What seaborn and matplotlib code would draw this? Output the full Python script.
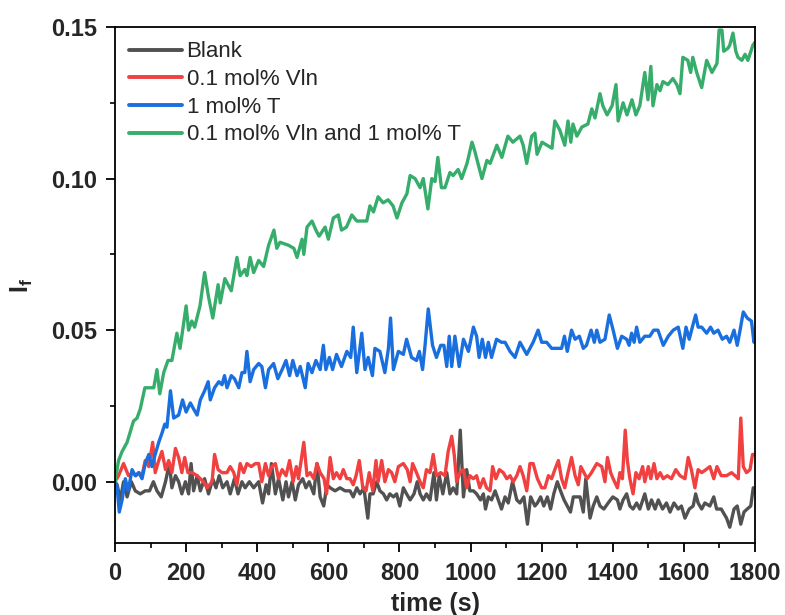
import numpy as np
import pandas as pd
import matplotlib
matplotlib.use("Agg")
import matplotlib.pyplot as plt
import seaborn as sns
from matplotlib.ticker import MultipleLocator, FormatStrFormatter

sns.set_style("ticks")
plt.rcParams["font.family"] = ["Liberation Sans", "DejaVu Sans"]
plt.rcParams["mathtext.fontset"] = "custom"
plt.rcParams["mathtext.bf"] = "Liberation Sans:bold"
plt.rcParams["mathtext.rm"] = "Liberation Sans"

# ---------------- data (I_f values in units of 1e-3) ----------------
series_labels = ["Blank", "0.1 mol% Vln", "1 mol% T", "0.1 mol% Vln and 1 mol% T"]
series_colors = ["#515151", "#F14040", "#1A6FDF", "#37AD6B"]

blank_t = [0, 6, 15, 24, 34, 46, 57, 71, 85, 97, 108, 118, 130, 142, 153, 160, 170, 179, 188, 198,
           207, 214, 221, 231, 240, 252, 263, 275, 284, 293, 303, 315, 324, 336, 346, 357, 366, 378,
           390, 404, 415, 425, 432, 440, 451, 460, 472, 481, 488, 498, 507, 516, 528, 537, 546, 559,
           568, 577, 587, 596, 605, 619, 633, 647, 661, 670, 680, 689, 700, 711, 717, 726, 736, 745,
           755, 764, 773, 783, 792, 801, 811, 820, 830, 841, 850, 858, 867, 876, 886, 897, 904, 912,
           922, 933, 942, 951, 961, 971, 980, 989, 998, 1008, 1017, 1028, 1036, 1042, 1050, 1059,
           1069, 1078, 1087, 1097, 1106, 1118, 1130, 1139, 1150, 1160, 1169, 1181, 1188, 1197, 1206,
           1216, 1225, 1234, 1244, 1253, 1263, 1272, 1281, 1289, 1298, 1308, 1317, 1324, 1336, 1345,
           1355, 1364, 1375, 1387, 1400, 1413, 1420, 1429, 1439, 1448, 1457, 1467, 1476, 1490, 1500,
           1509, 1519, 1528, 1540, 1551, 1561, 1572, 1584, 1593, 1603, 1615, 1626, 1633, 1640, 1650,
           1659, 1673, 1684, 1692, 1705, 1720, 1729, 1741, 1750, 1760, 1769, 1778, 1788, 1795]
blank_v = [0, -1, -6, 0, -5, 0, -3, -4, -3, -3, 0, -3, -5, 0, 6, -2, 2, 0, -4, 0,
           -4, 6, -3, 2, -3, 1, -4, 1, -2, 2, -2, 0, -4, 1, -4, 0, -2, 0,
           -2, 0, -7, -1, -4, 6, -4, 1, -6, 0, -5, 0, -6, -1, 1, -2, 0, -4,
           6, -5, -8, -1, -2, -3, -2, -3, -3, -5, -2, -4, -2, -12, -4, -4, 0, -3,
           -4, -6, -4, -5, -4, -8, -2, -4, -6, -4, 0, -4, -6, -4, -6, 3, -6, 2,
           -4, 3, -4, -2, -4, 17, -5, 4, -3, -3, -4, -6, -4, -9, -5, -6,
           -3, -6, -9, -5, -7, 0, -6, -7, -5, -14, -5, -8, -7, -5, -8,
           -5, -9, -4, 0, -3, -6, -8, -10, -5, -5, -5, -10, 1, -12, -8,
           -5, -8, -9, -7, -5, -6, -9, -6, -4, -8, -9, -7, -9, -4, -9,
           -6, -9, -6, -9, -7, -10, -7, -9, -8, -12, -9, -8, -4, -7, -9,
           -7, -8, -5, -9, -9, -12, -15, -9, -8, -14, -10, -9, -8, -2]

vln_t = [0, 10, 24, 38, 50, 59, 67, 76, 85, 95, 106, 113, 123, 132, 142, 151, 160, 170, 179, 188,
         196, 205, 217, 231, 240, 249, 259, 273, 280, 290, 301, 315, 324, 334, 343, 352, 362, 371,
         383, 395, 404, 413, 423, 432, 441, 451, 460, 470, 481, 491, 501, 510, 516, 531, 540, 549,
         559, 568, 577, 588, 595, 605, 614, 623, 633, 642, 652, 661, 670, 678, 687, 697, 706, 715,
         725, 734, 740, 750, 759, 769, 778, 787, 797, 811, 822, 830, 837, 848, 858, 867, 876, 886,
         895, 904, 916, 928, 937, 947, 954, 961, 970, 980, 989, 998, 1008, 1017, 1026, 1036, 1045,
         1055, 1062, 1071, 1081, 1092, 1102, 1111, 1120, 1130, 1139, 1148, 1158, 1167, 1176, 1188,
         1200, 1209, 1219, 1228, 1237, 1247, 1256, 1265, 1274, 1284, 1294, 1303, 1310, 1319, 1328,
         1340, 1355, 1369, 1378, 1385, 1394, 1401, 1413, 1420, 1427, 1435, 1441, 1448, 1457, 1465,
         1474, 1484, 1490, 1500, 1507, 1516, 1524, 1533, 1542, 1553, 1565, 1577, 1589, 1603, 1612,
         1621, 1631, 1640, 1650, 1662, 1673, 1684, 1693, 1705, 1720, 1734, 1744, 1753, 1760, 1767,
         1776, 1786, 1793, 1800]
vln_v = [0, 2, 6, 2, 3, 2, 3, 2, 7, 5, 13, 3, 7, 10, 4, 7, 3, 11, 8, 3,
         8, 3, 3, 2, 1, 0, -2, 0, 9, 4, 3, 3, 5, 3, -1, 6, 3, 6,
         5, 6, 6, 0, 6, 2, 5, 6, 1, 4, 2, 7, 0, 5, 1, 13, 2, 3,
         1, 6, 3, 1, -4, 8, 1, 3, 1, 4, 1, 1, -1, 2, 7, -2, -3, 3,
         -3, 7, 0, 7, 0, 4, 3, 0, 5, 6, 4, 0, 6, 3, 0, -2, 4, 3,
         9, 2, 3, 2, 10, 15, 9, 0, 3, 4, -2, 2, 1, 2, -2, 1, -2,
         -3, 5, 1, 4, 3, 1, 2, 0, 2, 5, 2, -3, 6, 6, 1,
         -2, -2, 2, 1, 4, 7, 1, -2, 3, 8, 2, -1, 5, 3, 1,
         3, 6, 5, 0, 8, 3, 1, -2, 3, 1, 17, 7, 1, -4, 3,
         1, 5, 0, 5, 1, 6, 1, 3, 1, 2, 1, 4, 2, 1, 8,
         4, -2, 4, 3, 4, 5, 1, 5, 2, 2, 3, 2, 1, 21, 5,
         3, 4, 9, 9]

t_t = [0, 6, 12, 20, 29, 37, 48, 57, 67, 76, 85, 95, 104, 113, 123, 132, 140, 146, 156, 165,
       179, 190, 200, 212, 221, 231, 240, 252, 262, 268, 280, 292, 301, 308, 315, 327, 336, 348,
       357, 365, 371, 380, 390, 404, 413, 423, 432, 446, 458, 470, 481, 491, 500, 512, 521, 535,
       543, 554, 565, 577, 586, 593, 603, 612, 623, 637, 652, 663, 670, 680, 694, 703, 712, 724,
       731, 745, 759, 769, 775, 783, 797, 811, 820, 834, 848, 856, 865, 872, 881, 893, 904, 916,
       925, 933, 940, 947, 956, 968, 980, 994, 1008, 1017, 1024, 1033, 1042, 1050, 1059, 1073,
       1087, 1097, 1111, 1125, 1139, 1158, 1176, 1190, 1200, 1214, 1228, 1242, 1256, 1264, 1272,
       1284, 1294, 1306, 1317, 1326, 1339, 1348, 1355, 1364, 1378, 1390, 1401, 1413, 1425, 1439,
       1446, 1453, 1460, 1467, 1476, 1490, 1504, 1515, 1527, 1542, 1556, 1570, 1584, 1597, 1606,
       1615, 1626, 1633, 1640, 1650, 1664, 1675, 1684, 1696, 1708, 1720, 1729, 1741, 1750, 1758,
       1767, 1778, 1790, 1797, 1800]
t_v = [0, -2, -10, -6, 1, -3, 4, 2, 3, 1, 6, 9, 5, 9, 13, 16, 19, 18, 30, 21,
       22, 27, 23, 26, 24, 22, 27, 30, 33, 27, 31, 33, 32, 35, 31, 35, 34, 31,
       36, 36, 43, 33, 37, 39, 38, 31, 37, 39, 34, 37, 40, 35, 40, 35, 38, 31,
       39, 36, 40, 37, 45, 37, 41, 37, 42, 38, 43, 41, 51, 36, 49, 37, 41, 35,
       44, 43, 36, 44, 54, 37, 43, 42, 47, 41, 40, 43, 37, 45, 57, 45, 41, 45,
       45, 38, 48, 38, 48, 38, 47, 43, 51, 48, 41, 47, 41, 46, 41, 47,
       46, 46, 43, 41, 46, 42, 46, 50, 46, 46, 44, 44, 44, 48, 43,
       50, 47, 48, 44, 45, 50, 46, 50, 46, 47, 55, 50, 44, 48, 47,
       45, 49, 46, 51, 46, 48, 48, 50, 50, 45, 48, 50, 51, 44, 51,
       47, 52, 55, 51, 51, 49, 51, 49, 50, 47, 48, 46, 50, 45, 50,
       56, 54, 53, 46, 47]

both_t = [0, 10, 20, 34, 52, 62, 71, 84, 109, 118, 126, 137, 149, 160, 174, 183, 200, 207, 216, 224,
          239, 252, 263, 275, 290, 296, 309, 327, 343, 352, 365, 371, 380, 390, 404, 418, 432, 447,
          455, 464, 488, 503, 512, 526, 531, 540, 554, 565, 574, 591, 600, 614, 628, 637, 651, 666,
          680, 694, 708, 717, 727, 740, 754, 768, 782, 793, 807, 821, 830, 844, 858, 867, 880, 891,
          900, 908, 918, 928, 942, 951, 965, 975, 990, 1004, 1012, 1021, 1032, 1046, 1055, 1074,
          1088, 1105, 1119, 1139, 1148, 1158, 1172, 1181, 1187, 1201, 1215, 1229, 1237, 1251, 1265,
          1274, 1282, 1288, 1299, 1313, 1330, 1341, 1350, 1364, 1372, 1384, 1398, 1409, 1415, 1429,
          1440, 1454, 1465, 1476, 1490, 1499, 1507, 1513, 1524, 1533, 1541, 1555, 1569, 1580, 1589,
          1597, 1611, 1619, 1625, 1636, 1650, 1664, 1679, 1693, 1699, 1707, 1712, 1724, 1729, 1738,
          1746, 1752, 1763, 1772, 1780, 1794, 1800]
both_v = [0, 7, 10, 13, 20, 21, 24, 31, 31, 37, 29, 36, 40, 40, 49, 44, 58, 50, 53, 51,
          58, 69, 61, 54, 65, 59, 67, 63, 74, 68, 70, 68, 74, 69, 73, 71, 78, 83,
          77, 79, 78, 77, 74, 80, 75, 84, 86, 83, 81, 84, 80, 87, 88, 83, 84, 88,
          86, 86, 86, 91, 89, 94, 92, 93, 91, 87, 92, 95, 101, 100, 97, 100, 90, 100,
          99, 107, 97, 97, 102, 101, 103, 100, 105, 112, 109, 105, 100, 106, 105, 111,
          107, 114, 112, 114, 111, 105, 114, 115, 108, 112, 111, 110, 119, 116, 111,
          119, 112, 118, 114, 117, 118, 123, 120, 128, 124, 121, 124, 131, 119, 125,
          121, 126, 121, 124, 135, 126, 137, 124, 131, 129, 132, 131, 133, 131, 128,
          140, 139, 135, 140, 135, 130, 139, 135, 138, 149, 149, 142, 143, 144, 148,
          142, 140, 139, 141, 139, 144, 145]

x_ticks_major = 200
y_ticks_major = 0.05

# ---------------- build long table ----------------
frames = []
for lab, tt, vv in zip(series_labels,
                       [blank_t, vln_t, t_t, both_t],
                       [blank_v, vln_v, t_v, both_v]):
    frames.append(pd.DataFrame({"time": tt, "If": np.array(vv) / 1000.0, "series": lab}))
df = pd.concat(frames, ignore_index=True)

fig = plt.figure(figsize=(7.85, 6.15), dpi=100)
ax = fig.add_axes([0.1465, 0.1171, 0.8153, 0.839])

sns.lineplot(data=df, x="time", y="If", hue="series", hue_order=series_labels,
             palette=series_colors, estimator=None, sort=False, linewidth=2.4, ax=ax)

ax.set_xlim(0, 1800)
ax.set_ylim(-0.0202, 0.15)
ax.xaxis.set_major_locator(MultipleLocator(x_ticks_major))
ax.xaxis.set_minor_locator(MultipleLocator(x_ticks_major / 2))
ax.yaxis.set_major_locator(MultipleLocator(y_ticks_major))
ax.yaxis.set_minor_locator(MultipleLocator(y_ticks_major / 2))
ax.yaxis.set_major_formatter(FormatStrFormatter("%.2f"))

for s in ax.spines.values():
    s.set_visible(True)
    s.set_linewidth(1.3)
    s.set_color("black")
ax.tick_params(which="major", direction="out", length=6.8, width=1.3, color="black")
ax.tick_params(which="minor", direction="out", length=3.8, width=1.2, color="black")
ax.tick_params(axis="y", labelsize=17, pad=6)
ax.tick_params(axis="x", labelsize=17, pad=7)
for lbl in ax.get_xticklabels() + ax.get_yticklabels():
    lbl.set_fontweight("bold")

ax.set_xlabel("time (s)", fontsize=18, fontweight="bold", labelpad=5)
ax.set_ylabel(r"$\mathbf{I_f}$", fontsize=18, labelpad=12)

handles, labels = ax.get_legend_handles_labels()
leg = ax.legend(handles, labels, loc="upper left", frameon=False, fontsize=16,
                handlelength=2.35, handletextpad=0.22, labelspacing=0.3,
                borderaxespad=0.25, bbox_to_anchor=(0.0, 1.0))
for line in leg.get_lines():
    line.set_linewidth(2.8)

fig.savefig("out.png", dpi=100)
